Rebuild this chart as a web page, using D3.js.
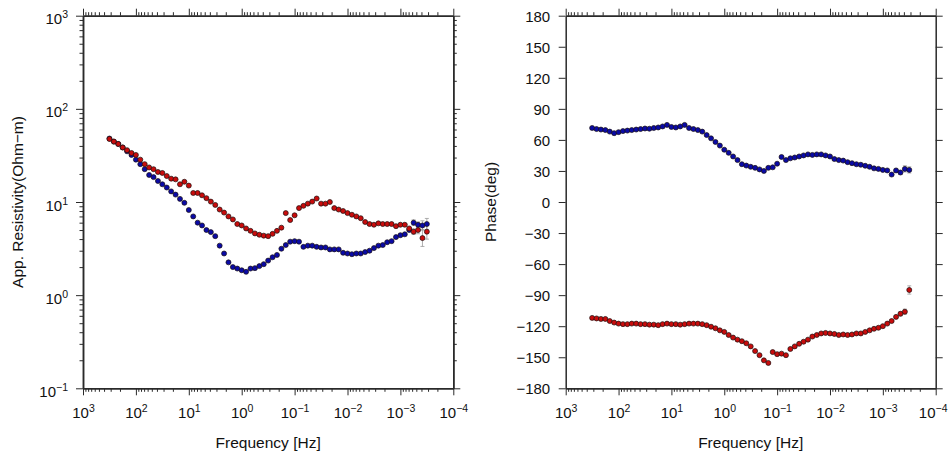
<!DOCTYPE html>
<html>
<head>
<meta charset="utf-8">
<script src="https://cdn.jsdelivr.net/npm/d3@7"></script>
<style>
  body { margin: 0; background: #fff; }
  svg { display: block; }
  text { font-family: "Liberation Sans", Arial, Helvetica, sans-serif; fill: #111; }
</style>
</head>
<body>
<svg id="chart" width="949" height="454"></svg>
<script>
// Sounding frequencies [Hz], 12 per decade
const freq = [
  316.2, 261.0, 215.4, 177.8, 146.8, 121.2, 100.0, 82.54, 68.13, 56.23, 46.42, 38.31,
  31.62, 26.10, 21.54, 17.78, 14.68, 12.12, 10.00, 8.254, 6.813, 5.623, 4.642, 3.831,
  3.162, 2.610, 2.154, 1.778, 1.468, 1.212, 1.000, 0.8254, 0.6813, 0.5623, 0.4642, 0.3831,
  0.3162, 0.2610, 0.2154, 0.1778, 0.1468, 0.1212, 0.1000, 0.08254, 0.06813, 0.05623, 0.04642, 0.03831,
  0.03162, 0.02610, 0.02154, 0.01778, 0.01468, 0.01212, 0.01000, 0.008254, 0.006813, 0.005623, 0.004642, 0.003831,
  0.003162, 0.002610, 0.002154, 0.001778, 0.001468, 0.001212, 0.001000, 0.0008254, 0.0006813, 0.0005623, 0.0004642, 0.0003831,
  0.0003162
];

// Apparent resistivity [Ohm-m]
const rhoXY = [
  47.5, 44.5, 42, 38.5, 36, 33.6, 32, 28.5, 25.5, 23.5, 22.5, 21,
  20.5, 19, 17.8, 17.5, 15.5, 16.5, 15, 12.5, 12.5, 11.8, 11, 10.1,
  9.3, 8.3, 7.7, 7.0, 6.5, 5.8, 5.6, 5.2, 4.9, 4.6, 4.45, 4.35,
  4.3, 4.55, 4.9, 5.3, 7.6, 6.4, 7.2, 8.6, 9.1, 9.6, 10.1, 10.9,
  9.6, 9.6, 10.0, 8.6, 8.3, 8.0, 7.6, 7.3, 7.0, 6.7, 6.1, 5.8,
  5.7, 5.9, 5.8, 5.8, 5.8, 5.5, 5.7, 5.7, 5.2, 4.8, 5.0, 4.1,
  4.8
];
const rhoYX = [
  48, 44.5, 42, 38.5, 35, 32, 28.5, 25.5, 22.5, 19.5, 18.5, 16.8,
  15.5, 14.3, 13, 12, 10.8, 9.8, 8.2, 7.0, 6.0, 5.6, 5.0, 4.75,
  4.3, 3.4, 2.8, 2.25, 2.0, 1.93, 1.85, 1.78, 1.93, 1.95, 2.05, 2.15,
  2.35, 2.55, 2.7, 3.15, 3.45, 3.75, 3.8, 3.75, 3.3, 3.4, 3.4, 3.3,
  3.25, 3.25, 3.1, 3.1, 3.1, 2.85, 2.8, 2.75, 2.8, 2.8, 2.9, 3.0,
  3.2, 3.4, 3.45, 3.7, 3.8, 4.2, 4.4, 4.5, 5.0, 6.0, 5.7, 5.6,
  5.8
];

// Impedance phase [deg]
const phaseXY = [
  -112, -112.5, -113, -113, -115, -116.5, -117.5, -118, -118, -117.5, -117.5, -118,
  -118, -118.5, -118.5, -119, -118, -117.5, -118, -118, -118.5, -118, -117.5, -117.5,
  -117.5, -118, -119, -120.5, -122, -124, -125.5, -128.5, -131, -133, -134.5, -136.5,
  -139.5, -144, -148, -153, -155.5, -145, -147, -146.5, -148, -142, -139.5, -137,
  -135, -133, -130, -128.5, -127, -126.5, -127, -127.5, -128.5, -128, -128.5, -128,
  -127, -127, -125.5, -124, -122.5, -121.5, -120, -117.5, -115, -111, -108, -106,
  -85
];
const phaseYX = [
  71.5, 70.5, 70, 69.5, 68, 66.5, 67.5, 68.5, 69, 69.5, 70, 70.5,
  71, 70.8, 71.5, 72, 73, 74.5, 72.5, 72, 73, 74.5, 71.5, 70.5,
  69.5, 68, 64.7, 61.5, 58, 54.5, 50.5, 47.5, 44, 40.5, 36.5, 35.2,
  34, 33, 31.5, 30, 33, 33.5, 37, 43.5, 40.5, 42.2, 43, 44,
  45, 46, 45.5, 46, 46, 45, 44, 41.5, 40.5, 40, 38.5, 37.5,
  36.5, 36, 35, 34, 32.5, 32, 31, 30.5, 26.5, 30.5, 28.5, 32,
  31
];

// Error half-widths of the last four (longest-period) estimates
const rhoXYErr = [0.03, 0.04, 0.09, 0.08];     // log10 units
const rhoYXErr = [0.03, 0.03, 0.05, 0.06];     // log10 units
const phaseXYErr = [1.5, 2, 2.5, 4];           // degrees
const phaseYXErr = [1.5, 2, 3, 3];             // degrees

// Axis annotations
const freqDecades = [1e3, 1e2, 1e1, 1e0, 1e-1, 1e-2, 1e-3, 1e-4];
const freqExponents = ["3", "2", "1", "0", "\u22121", "\u22122", "\u22123", "\u22124"];
const rhoDecades = [1e-1, 1e0, 1e1, 1e2, 1e3];
const rhoExponents = ["\u22121", "0", "1", "2", "3"];
const phaseTicks = [-180, -150, -120, -90, -60, -30, 0, 30, 60, 90, 120, 150, 180];

const COLOR_XY = "#c80c0c", COLOR_YX = "#0a0aa6";
const MAJOR = 7, MINOR = 3.5, FS = 15, SUP = 10.5;
const WIDTH = 949;

const svg = d3.select("#chart");

function minorTicks(decades) {
  const lo = d3.min(decades), hi = d3.max(decades), out = [];
  decades.forEach(d => {
    for (let m = 2; m <= 9; m++) { const v = m * d; if (v > lo && v < hi) out.push(v); }
  });
  return out;
}

function styleAxis(g) {
  g.attr("font-family", null).attr("font-size", null);
  g.select(".domain").attr("stroke", "#2a2a2a").attr("stroke-width", 1.5);
  g.selectAll(".tick line").attr("stroke", "#2a2a2a").attr("stroke-width", 1);
  return g;
}

function addAxis(axisFn, scale, values, size, tx, ty) {
  const g = svg.append("g").attr("transform", `translate(${tx},${ty})`)
    .call(axisFn(scale).tickValues(values).tickSize(size).tickSizeOuter(0).tickFormat(""));
  return styleAxis(g);
}

function powerLabel(text, exp) {
  text.append("tspan").text("10");
  text.append("tspan").attr("dy", -6).attr("font-size", SUP).text(exp);
}

function frequencyAxes(x, y) {
  const [y0, y1] = y.range();
  const minor = minorTicks(freqDecades);
  [[d3.axisBottom, y0], [d3.axisTop, y1]].forEach(([fn, ty]) => {
    addAxis(fn, x, minor, MINOR, 0, ty);
    const g = addAxis(fn, x, freqDecades, MAJOR, 0, ty);
    if (fn === d3.axisBottom) {
      g.selectAll(".tick").append("text")
        .attr("y", 30).attr("text-anchor", "middle").attr("font-size", FS)
        .each(function (d) {
          const t = d3.select(this);
          powerLabel(t, freqExponents[freqDecades.indexOf(d)]);
          // keep the last annotation inside the drawing area
          const over = x(d) + this.getComputedTextLength() / 2 - (WIDTH - 2);
          if (over > 0) t.attr("x", -over);
        });
    }
  });
  const [x0, x1] = x.range();
  svg.append("text").attr("x", (x0 + x1) / 2).attr("y", 447.5)
    .attr("text-anchor", "middle").attr("font-size", 15.5).text("Frequency [Hz]");
}

function errorBars(g, x, y, xs, ys, errs, lo, hi, color) {
  const start = xs.length - errs.length;
  errs.forEach((e, k) => {
    const i = start + k, cx = x(xs[i]);
    const ya = y(lo(ys[i], e)), yb = y(hi(ys[i], e));
    g.append("line").attr("x1", cx).attr("x2", cx).attr("y1", ya).attr("y2", yb)
      .attr("stroke", color).attr("stroke-width", 0.8);
    [ya, yb].forEach(yy => g.append("line").attr("x1", cx - 2).attr("x2", cx + 2)
      .attr("y1", yy).attr("y2", yy).attr("stroke", color).attr("stroke-width", 0.8));
  });
}

function dots(g, x, y, xs, ys, color) {
  g.selectAll(null).data(ys).join("circle")
    .attr("cx", (d, i) => x(xs[i])).attr("cy", d => y(d)).attr("r", 2.5)
    .attr("fill", color).attr("stroke", "#1a1010").attr("stroke-width", 0.7);
}

// ---------- Left panel: apparent resistivity ----------
{
  const x = d3.scaleLog().domain([1e3, 1e-4]).range([83, 453.3]);
  const y = d3.scaleLog().domain([1e-1, 1e3]).range([388.3, 15.7]);
  const minor = minorTicks(rhoDecades);
  addAxis(d3.axisLeft, y, minor, MINOR, 83, 0);
  const gl = addAxis(d3.axisLeft, y, rhoDecades, MAJOR, 83, 0);
  gl.selectAll(".tick").append("text")
    .attr("x", -15).attr("y", 8).attr("text-anchor", "end").attr("font-size", FS)
    .each(function (d) { powerLabel(d3.select(this), rhoExponents[rhoDecades.indexOf(d)]); });
  addAxis(d3.axisRight, y, minor, MINOR, 453.3, 0);
  addAxis(d3.axisRight, y, rhoDecades, MAJOR, 453.3, 0);
  frequencyAxes(x, y);

  svg.append("text").attr("transform", "translate(17,202) rotate(-90)")
    .attr("text-anchor", "middle").attr("dominant-baseline", "central")
    .attr("font-size", 15.5).text("App. Resistivity(Ohm\u2212m)");

  const g = svg.append("g");
  const lo = (v, e) => v * Math.pow(10, -e), hi = (v, e) => v * Math.pow(10, e);
  errorBars(g, x, y, freq, rhoYX, rhoYXErr, lo, hi, "#9a9a9a");
  errorBars(g, x, y, freq, rhoXY, rhoXYErr, lo, hi, "#9a9a9a");
  dots(g, x, y, freq, rhoYX, COLOR_YX);
  dots(g, x, y, freq, rhoXY, COLOR_XY);
}

// ---------- Right panel: phase ----------
{
  const x = d3.scaleLog().domain([1e3, 1e-4]).range([565.7, 935.7]);
  const y = d3.scaleLinear().domain([-180, 180]).range([388.3, 15.7]);
  const gl = addAxis(d3.axisLeft, y, phaseTicks, MAJOR, 565.7, 0);
  gl.selectAll(".tick").append("text")
    .attr("x", -15.5).attr("y", 5.3).attr("text-anchor", "end").attr("font-size", FS)
    .text(d => String(d).replace("-", "\u2212"));
  addAxis(d3.axisRight, y, phaseTicks, MAJOR, 935.7, 0);
  frequencyAxes(x, y);

  svg.append("text").attr("transform", "translate(490,202) rotate(-90)")
    .attr("text-anchor", "middle").attr("dominant-baseline", "central")
    .attr("font-size", 15.5).text("Phase(deg)");

  const g = svg.append("g");
  const lo = (v, e) => v - e, hi = (v, e) => v + e;
  errorBars(g, x, y, freq, phaseYX, phaseYXErr, lo, hi, "#9a9a9a");
  errorBars(g, x, y, freq, phaseXY, phaseXYErr, lo, hi, "#9a9a9a");
  dots(g, x, y, freq, phaseYX, COLOR_YX);
  dots(g, x, y, freq, phaseXY, COLOR_XY);
}
</script>
</body>
</html>
